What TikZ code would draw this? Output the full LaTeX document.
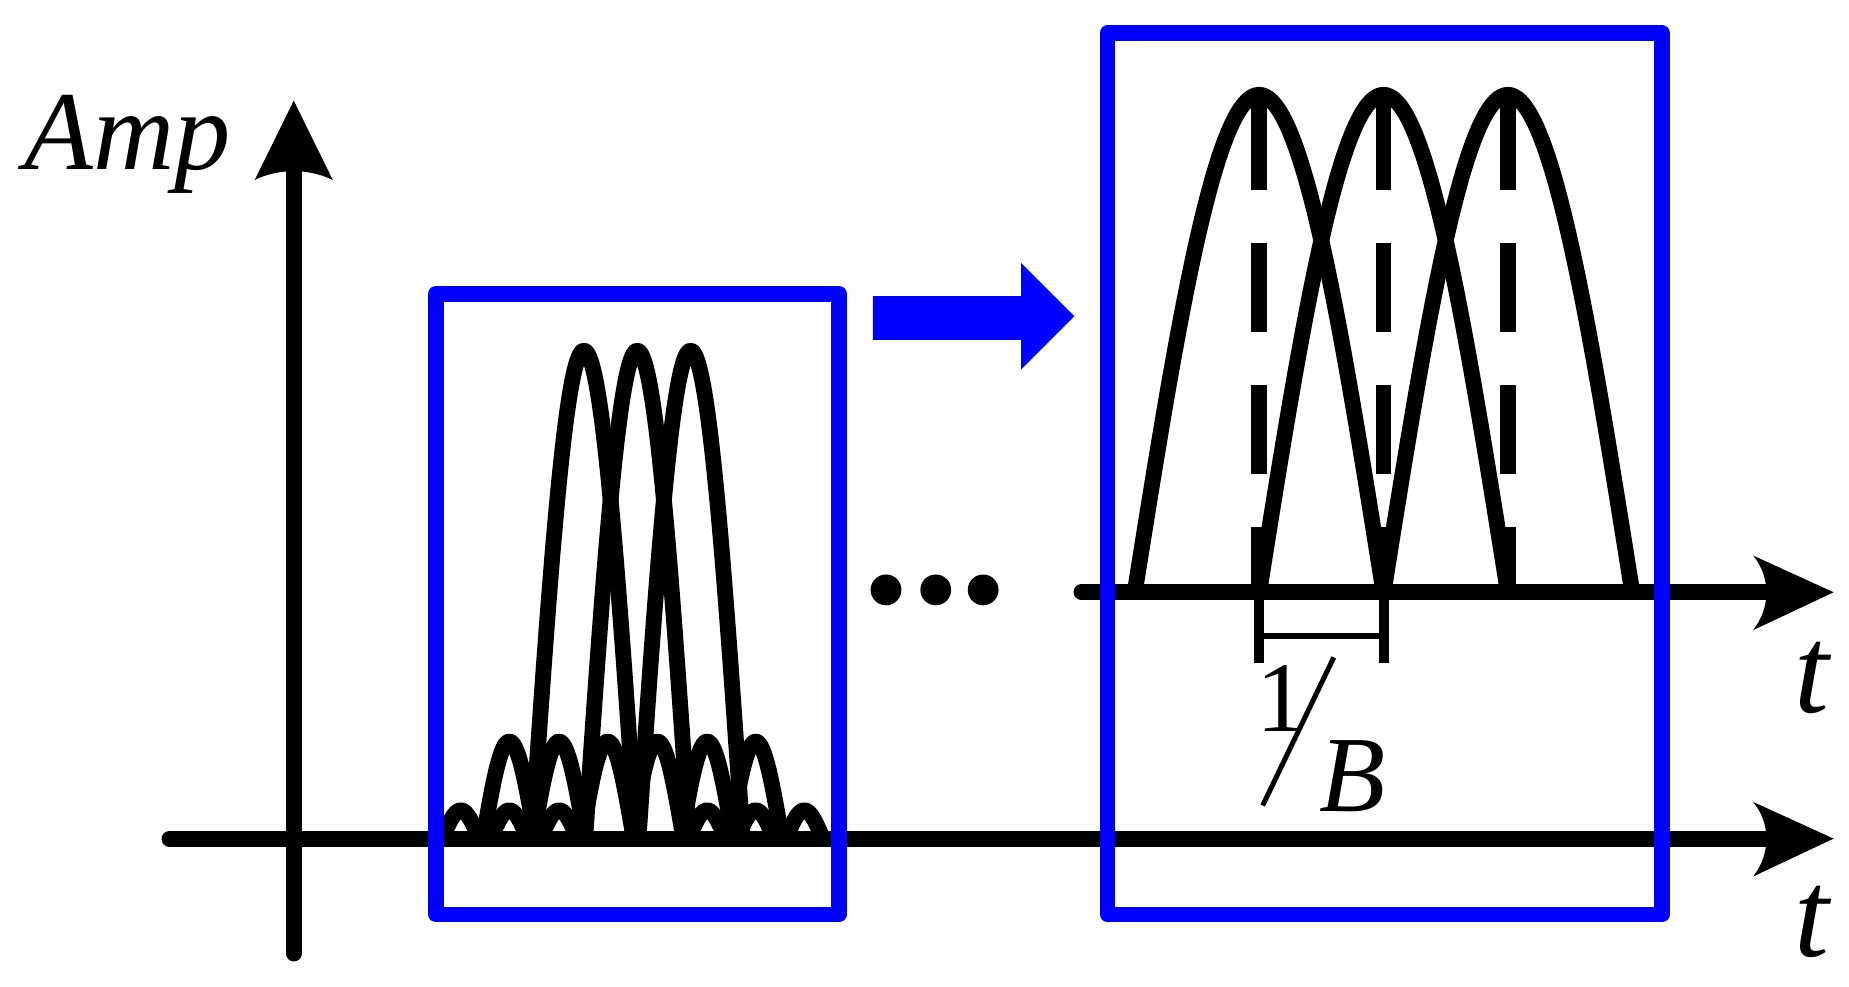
\documentclass[tikz,border=0pt]{standalone}
\usepackage{fontspec}
\setmainfont{Liberation Serif}
\begin{document}
\begin{tikzpicture}[x=0.01cm,y=-0.01cm,
  bx/.style={draw=blue,line width=3.8pt,line join=round},
  lobe/.style={line width=3.8pt,line join=round}]
\useasboundingbox (0,0) rectangle (1561,833);
% axes
\draw[line width=3.8pt,line cap=round] (248,805) -- (248,140);
\fill (248,85) -- (215,152) .. controls (235,142) and (261,142) .. (281,152) -- cycle;
\draw[line width=3.8pt,line cap=round] (143,708) -- (1490,708);
\fill (1548,708) -- (1480,677) .. controls (1495,695) and (1495,721) .. (1480,740) -- cycle;
\draw[line width=3.8pt,line cap=round] (913,500) -- (1490,500);
\fill (1548,500) -- (1480,469) .. controls (1495,487) and (1495,513) .. (1480,532) -- cycle;
\node[font=\itshape\fontsize{27}{27}\selectfont] (amp) at (108,122) {Amp};
\node[font=\itshape\fontsize{30}{30}\selectfont] (t1) at (1530,572) {t};
\node[font=\itshape\fontsize{30}{30}\selectfont] (t2) at (1530,778) {t};
% left lobes
\foreach \c in {493,538,583}
  \draw[lobe] plot[domain=-1:1,samples=40,smooth] ({\c+44*\x},{708-412*cos(90*\x)});
\foreach \c in {430,472,513,555,597,638}
  \draw[lobe] plot[domain=-1:1,samples=20,smooth] ({\c+22*\x},{708-82*cos(90*\x)});
\foreach \c in {389,430,472,597,638,679}
  \draw[lobe] plot[domain=-1:1,samples=15,smooth] ({\c+14*\x},{704-20*cos(90*\x)});
\draw[bx] (368,248) rectangle (708,772);
% blue arrow
\fill[blue] (737,250) -- (862,250) -- (862,222) -- (907,267) -- (862,312) -- (862,287) -- (737,287) -- cycle;
% dots
\foreach \x in {748,790,830} \fill (\x,498) circle (13);
% right lobes
\foreach \c in {1063,1168,1273}{
  \draw[lobe] plot[domain=-1:1,samples=40,smooth] ({\c+105*\x},{500-420*cos(90*\x)});
  \draw[line width=3.8pt,dash pattern=on 0.75cm off 0.45cm] (\c,85) -- (\c,495);}
\draw[bx] (935,28) rectangle (1403,772);
% bracket
\draw[line width=2.4pt] (1063,500) -- (1063,560) (1168,500) -- (1168,560);
\draw[line width=1.6pt] (1063,537) -- (1168,537);
\draw[line width=1.2pt] (1066,680) -- (1126,555);
\node[font=\fontsize{24}{24}\selectfont] (one) at (1082,590) {1};
\node[font=\itshape\fontsize{26}{26}\selectfont] (b) at (1142,655) {B};
\end{tikzpicture}
\end{document}
